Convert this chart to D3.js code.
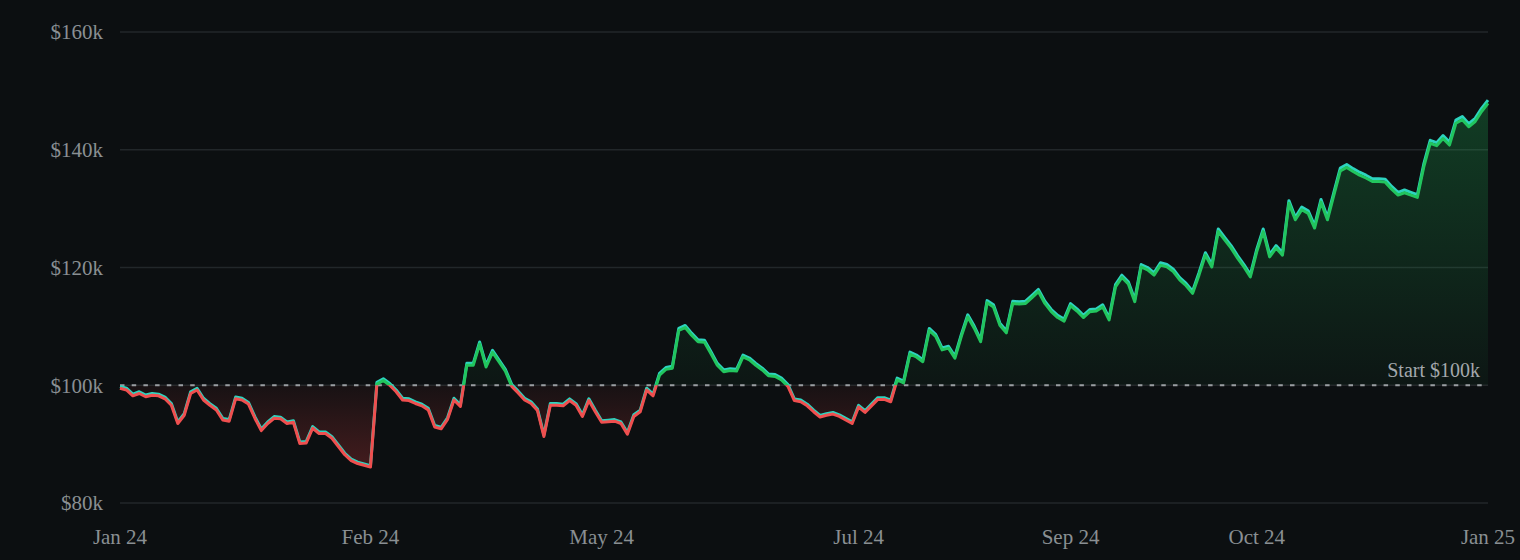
<!DOCTYPE html>
<html>
<head>
<meta charset="utf-8">
<script src="https://cdn.jsdelivr.net/npm/d3@7"></script>
<style>
  html, body { margin: 0; padding: 0; background: #0c0f11; }
  svg { display: block; }
  text { font-family: "Liberation Serif", "Times New Roman", serif; }
</style>
</head>
<body>
<svg id="chart" width="1520" height="560"></svg>
<script>
// portfolio value, in $k, one point per step
const values = [
  99.5, 99.2, 98.2, 98.6, 98.05, 98.3, 98.2, 97.7, 96.6, 93.5,
  94.9, 98.6, 99.2, 97.5, 96.6, 95.8, 94.1, 93.9, 97.7, 97.5,
  96.8, 94.4, 92.3, 93.5, 94.4, 94.3, 93.5, 93.7, 90.1, 90.2,
  92.7, 91.8, 91.8, 91.0, 89.6, 88.2, 87.2, 86.7, 86.4, 86.1,
  100.2, 100.8, 100.0, 98.9, 97.5, 97.4, 96.9, 96.5, 95.8, 92.9,
  92.6, 94.2, 97.5, 96.4, 103.4, 103.4, 107.0, 103.1, 105.6, 104.0,
  102.4, 99.8, 98.7, 97.5, 96.9, 95.7, 91.3, 96.6, 96.6, 96.5,
  97.4, 96.6, 94.7, 97.4, 95.5, 93.7, 93.8, 93.9, 93.5, 91.7,
  94.7, 95.5, 99.2, 98.2, 101.7, 102.7, 102.9, 109.3, 109.8, 108.5,
  107.4, 107.3, 105.4, 103.4, 102.3, 102.5, 102.4, 104.8, 104.3, 103.4,
  102.6, 101.6, 101.5, 100.9, 99.8, 97.4, 97.2, 96.5, 95.5, 94.6,
  94.9, 95.1, 94.7, 94.1, 93.5, 96.3, 95.4, 96.5, 97.6, 97.6,
  97.2, 100.9, 100.4, 105.3, 104.8, 104.0, 109.3, 108.3, 106.0, 106.3,
  104.6, 108.3, 111.6, 109.7, 107.4, 114.0, 113.3, 110.2, 108.9, 113.9,
  113.8, 113.9, 114.9, 115.9, 113.9, 112.5, 111.5, 110.9, 113.5, 112.6,
  111.5, 112.5, 112.6, 113.3, 111.1, 116.7, 118.3, 117.2, 114.2, 120.1,
  119.6, 118.7, 120.4, 120.1, 119.3, 117.9, 116.9, 115.6, 118.7, 122.1,
  120.1, 126.1, 124.7, 123.3, 121.6, 120.1, 118.4, 122.7, 126.1, 121.8,
  123.3, 122.1, 130.9, 128.1, 129.8, 129.2, 126.7, 131.1, 128.1, 132.3,
  136.4, 137.0, 136.3, 135.7, 135.2, 134.6, 134.6, 134.5, 133.3, 132.3,
  132.7, 132.3, 131.9, 137.1, 141.1, 140.7, 141.9, 140.8, 144.5, 145.1,
  143.9, 144.8, 146.5, 147.9
];

const xTickIdx = [0, 39, 75, 115, 148, 177, 213];
const xTickLabels = ["Jan 24", "Feb 24", "May 24", "Jul 24", "Sep 24", "Oct 24", "Jan 25"];
const yTicks = [80, 100, 120, 140, 160];
const startValue = 100;
const startLabel = "Start $100k";

const svg = d3.select("#chart");
const margin = { left: 120, right: 32, top: 32, bottom: 57 };
const W = 1520, H = 560;

const x = d3.scaleLinear().domain([0, values.length - 1]).range([margin.left, W - margin.right]);
const y = d3.scaleLinear().domain([80, 160]).range([H - margin.bottom, margin.top]);

const data = values.map((v, i) => ({ i, v }));
const y0 = y(startValue);

svg.append("rect").attr("width", W).attr("height", H).attr("fill", "#0c0f11");

const defs = svg.append("defs");

const gGreen = defs.append("linearGradient").attr("id", "gGreen")
  .attr("gradientUnits", "userSpaceOnUse")
  .attr("x1", 0).attr("x2", 0).attr("y1", y(150)).attr("y2", y0);
gGreen.append("stop").attr("offset", 0).attr("stop-color", "#22c55e").attr("stop-opacity", 0.26);
gGreen.append("stop").attr("offset", 1).attr("stop-color", "#22c55e").attr("stop-opacity", 0.04);

const gRed = defs.append("linearGradient").attr("id", "gRed")
  .attr("gradientUnits", "userSpaceOnUse")
  .attr("x1", 0).attr("x2", 0).attr("y1", y0).attr("y2", y(85));
gRed.append("stop").attr("offset", 0).attr("stop-color", "#ef4444").attr("stop-opacity", 0.05);
gRed.append("stop").attr("offset", 1).attr("stop-color", "#ef4444").attr("stop-opacity", 0.26);

defs.append("clipPath").attr("id", "clipAbove")
  .append("rect").attr("x", 0).attr("y", 0).attr("width", W).attr("height", y0);
defs.append("clipPath").attr("id", "clipBelow")
  .append("rect").attr("x", 0).attr("y", y0).attr("width", W).attr("height", H - y0);

// grid + y labels
svg.append("g").selectAll("line").data(yTicks).join("line")
  .attr("x1", margin.left).attr("x2", W - margin.right)
  .attr("y1", d => y(d)).attr("y2", d => y(d))
  .attr("stroke", "#22272a").attr("stroke-width", 1.5);

svg.append("g").selectAll("text").data(yTicks).join("text")
  .attr("x", 103).attr("y", d => y(d)).attr("dy", "0.35em")
  .attr("text-anchor", "end")
  .attr("fill", "#8a8f93").style("font-size", "21px")
  .text(d => `$${d}k`);

// x labels
svg.append("g").selectAll("text").data(xTickIdx).join("text")
  .attr("x", d => x(d)).attr("y", 544)
  .attr("text-anchor", "middle")
  .attr("fill", "#8a8f93").style("font-size", "21px")
  .text((d, k) => xTickLabels[k]);

// fills
const area = d3.area().x(d => x(d.i)).y0(y0).y1(d => y(d.v));
svg.append("path").datum(data).attr("d", area)
  .attr("fill", "url(#gGreen)").attr("clip-path", "url(#clipAbove)");
svg.append("path").datum(data).attr("d", area)
  .attr("fill", "url(#gRed)").attr("clip-path", "url(#clipBelow)");

// start reference line
svg.append("line")
  .attr("x1", margin.left).attr("x2", W - margin.right)
  .attr("y1", y0).attr("y2", y0)
  .attr("stroke", "#9a9ea2").attr("stroke-width", 2)
  .attr("stroke-dasharray", "4.5,7.2");

svg.append("text")
  .attr("x", 1480).attr("y", 377)
  .attr("text-anchor", "end")
  .attr("fill", "#a3a8ac").style("font-size", "20px")
  .text(startLabel);

// lines: teal glow line sits slightly above, more so at higher values
const line = d3.line().x(d => x(d.i)).y(d => y(d.v));
svg.append("path").datum(data).attr("d", line)
  .attr("transform", "translate(0,-3.7) scale(1,1.005)")
  .attr("fill", "none").attr("stroke", "#2dd4bf").attr("stroke-width", 3)
  .attr("stroke-linejoin", "round");
svg.append("path").datum(data).attr("d", line)
  .attr("clip-path", "url(#clipAbove)")
  .attr("fill", "none").attr("stroke", "#22c55e").attr("stroke-width", 3)
  .attr("stroke-linejoin", "round");
svg.append("path").datum(data).attr("d", line)
  .attr("clip-path", "url(#clipBelow)")
  .attr("fill", "none").attr("stroke", "#ef4f4f").attr("stroke-width", 3)
  .attr("stroke-linejoin", "round");
</script>
</body>
</html>
